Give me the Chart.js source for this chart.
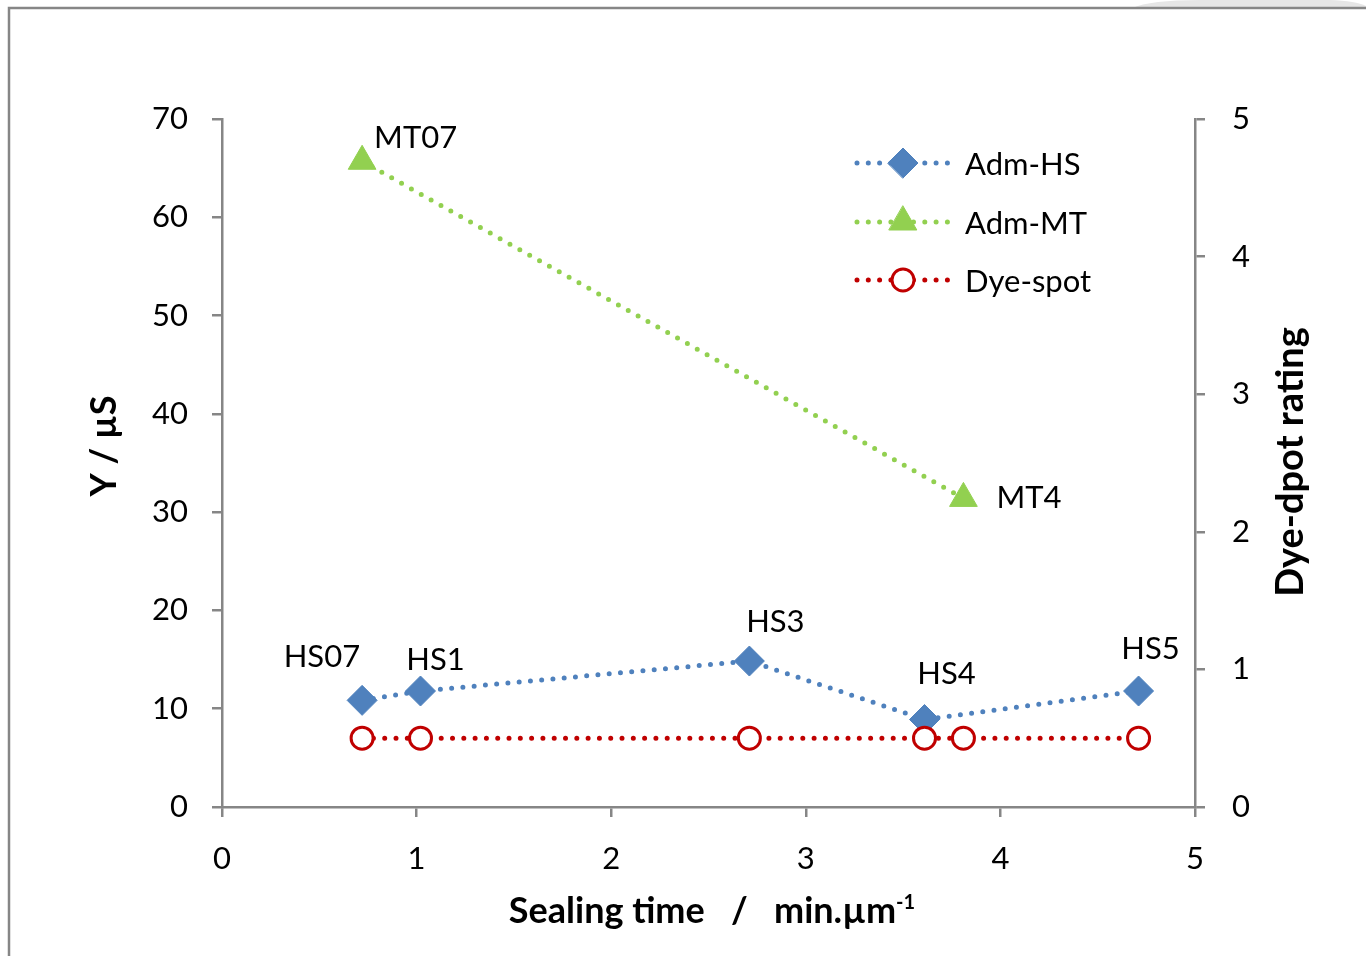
<!DOCTYPE html>
<html>
<head>
<meta charset="utf-8">
<title>Sealing time vs admittance</title>
<script src="https://cdn.jsdelivr.net/npm/chart.js@4.4.1/dist/chart.umd.min.js"></script>
<style>
  html, body { margin: 0; padding: 0; background: #fff; }
  #chart { display: block; }
</style>
</head>
<body>
<canvas id="chart" width="1366" height="956"></canvas>
<script>
// valores
const hsX = [0.72, 1.02, 2.71, 3.61, 4.71];
const hsY = [10.85, 11.8, 14.85, 8.9, 11.8];
const hsLabels = ['HS07', 'HS1', 'HS3', 'HS4', 'HS5'];

const mtX = [0.72, 3.81];
const mtY = [65.7, 31.4];
const mtLabels = ['MT07', 'MT4'];

const dyeX = [0.72, 1.02, 2.71, 3.61, 3.81, 4.71];
const dyeY = [0.5, 0.5, 0.5, 0.5, 0.5, 0.5];

const xTicks = [0, 1, 2, 3, 4, 5];
const yTicks = [0, 10, 20, 30, 40, 50, 60, 70];
const y2Ticks = [0, 1, 2, 3, 4, 5];

// deslocamento dos rótulos em relação aos pontos (dx, dy, alinhamento)
const hsLabelPos = [[-2, -43, 'right'], [15, -31, 'center'], [26, -39, 'center'], [22, -46, 'center'], [12, -42, 'center']];
const mtLabelPos = [[12, -23, 'left'], [33, 0, 'left']];

const AZUL = '#4F81BD';
const VERDE = '#92D050';
const VERMELHO = '#C00000';
const CINZA = '#868686';
const FONTE = 'Lato, "Open Sans", sans-serif';

function pares(xs, ys) {
  return xs.map((x, i) => ({ x: x, y: ys[i] }));
}

// desenha a moldura, títulos, legenda e rótulos dos pontos
const extras = {
  id: 'extras',
  afterDraw(chart) {
    const ctx = chart.ctx;
    ctx.save();

    // moldura
    ctx.fillStyle = '#e6e6e6';
    ctx.beginPath();
    ctx.moveTo(1132, 8);
    ctx.quadraticCurveTo(1150, 0, 1200, 0);
    ctx.lineTo(1330, 0);
    ctx.quadraticCurveTo(1356, 1, 1366, 6);
    ctx.lineTo(1366, 8);
    ctx.closePath();
    ctx.fill();
    ctx.strokeStyle = CINZA;
    ctx.lineWidth = 2.5;
    ctx.beginPath();
    ctx.moveTo(9, 956);
    ctx.lineTo(9, 8);
    ctx.lineTo(1366, 8);
    ctx.stroke();

    ctx.fillStyle = '#000';
    ctx.textBaseline = 'middle';

    // título do eixo x com expoente
    ctx.font = 'bold 36px ' + FONTE;
    ctx.textAlign = 'left';
    const parte1 = 'Sealing time   /   min.µm';
    const w1 = ctx.measureText(parte1).width;
    ctx.font = 'bold 20px ' + FONTE;
    const w2 = ctx.measureText('-1').width;
    const x0 = 712 - (w1 + w2) / 2;
    ctx.font = 'bold 36px ' + FONTE;
    ctx.fillText(parte1, x0, 911);
    ctx.font = 'bold 20px ' + FONTE;
    ctx.fillText('-1', x0 + w1, 903);

    // títulos verticais
    ctx.font = 'bold 36px ' + FONTE;
    ctx.textAlign = 'center';
    ctx.save();
    ctx.translate(104, 446);
    ctx.rotate(-Math.PI / 2);
    ctx.fillText('Y / µS', 0, 0);
    ctx.restore();
    ctx.font = 'bold 38px ' + FONTE;
    ctx.save();
    ctx.translate(1291, 462);
    ctx.rotate(-Math.PI / 2);
    ctx.fillText('Dye-dpot rating', 0, 0);
    ctx.restore();

    // rótulos dos pontos
    ctx.font = '31px ' + FONTE;
    const metaHS = chart.getDatasetMeta(0);
    metaHS.data.forEach((p, i) => {
      const pos = hsLabelPos[i];
      ctx.textAlign = pos[2];
      ctx.fillText(hsLabels[i], p.x + pos[0], p.y + pos[1]);
    });
    const metaMT = chart.getDatasetMeta(1);
    metaMT.data.forEach((p, i) => {
      const pos = mtLabelPos[i];
      ctx.textAlign = pos[2];
      ctx.fillText(mtLabels[i], p.x + pos[0], p.y + pos[1]);
    });

    // legenda
    const linhas = [163, 222, 280];
    chart.data.datasets.forEach((ds, i) => {
      const y = linhas[i];
      ctx.strokeStyle = ds.borderColor;
      ctx.lineWidth = ds.borderWidth;
      ctx.lineCap = 'round';
      ctx.setLineDash(ds.borderDash);
      ctx.beginPath();
      ctx.moveTo(857, y);
      ctx.lineTo(950, y);
      ctx.stroke();
      ctx.setLineDash([]);
      ctx.fillStyle = ds.pointBackgroundColor;
      ctx.strokeStyle = ds.pointBorderColor;
      ctx.lineWidth = ds.pointBorderWidth;
      Chart.helpers.drawPoint(ctx, {
        pointStyle: ds.pointStyle,
        radius: ds.pointRadius,
        borderWidth: ds.pointBorderWidth
      }, 903, y);
      ctx.fillStyle = '#000';
      ctx.font = '31px ' + FONTE;
      ctx.textAlign = 'left';
      ctx.fillText(ds.label, 965, y + 2);
    });

    ctx.restore();
  }
};

const estiloEixo = {
  grid: { drawOnChartArea: false, drawTicks: true, tickLength: 10, color: CINZA, lineWidth: 2.5 },
  border: { color: CINZA, width: 2.5 }
};

new Chart(document.getElementById('chart'), {
  type: 'scatter',
  data: {
    datasets: [
      {
        label: 'Adm-HS',
        data: pares(hsX, hsY),
        yAxisID: 'y',
        showLine: true,
        borderColor: AZUL,
        borderWidth: 5,
        borderDash: [0, 11.3],
        borderCapStyle: 'round',
        pointStyle: 'rectRot',
        pointRadius: 15,
        pointBackgroundColor: AZUL,
        pointBorderColor: AZUL,
        pointBorderWidth: 1,
        order: 1
      },
      {
        label: 'Adm-MT',
        data: pares(mtX, mtY),
        yAxisID: 'y',
        showLine: true,
        borderColor: VERDE,
        borderWidth: 5,
        borderDash: [0, 11.3],
        borderCapStyle: 'round',
        pointStyle: 'triangle',
        pointRadius: 16,
        pointBackgroundColor: VERDE,
        pointBorderColor: VERDE,
        pointBorderWidth: 1,
        order: 2
      },
      {
        label: 'Dye-spot',
        data: pares(dyeX, dyeY),
        yAxisID: 'y1',
        showLine: true,
        borderColor: VERMELHO,
        borderWidth: 5,
        borderDash: [0, 11.3],
        borderCapStyle: 'round',
        pointStyle: 'circle',
        pointRadius: 11,
        pointBackgroundColor: '#fff',
        pointBorderColor: VERMELHO,
        pointBorderWidth: 3,
        order: 0
      }
    ]
  },
  options: {
    responsive: false,
    animation: false,
    layout: { padding: { top: 119, left: 0, right: 0, bottom: 0 } },
    plugins: {
      legend: { display: false },
      tooltip: { enabled: false }
    },
    scales: {
      x: {
        type: 'linear',
        min: 0,
        max: 5,
        afterBuildTicks: s => { s.ticks = xTicks.map(v => ({ value: v })); },
        afterFit: s => { s.height = 149; },
        ticks: { color: '#000', font: { family: FONTE, size: 31 }, padding: 23 },
        ...estiloEixo
      },
      y: {
        position: 'left',
        min: 0,
        max: 70,
        afterBuildTicks: s => { s.ticks = yTicks.map(v => ({ value: v })); },
        afterFit: s => { s.width = 222; },
        ticks: { color: '#000', font: { family: FONTE, size: 31 }, padding: 24 },
        ...estiloEixo
      },
      y1: {
        position: 'right',
        min: 0,
        max: 5,
        afterBuildTicks: s => { s.ticks = y2Ticks.map(v => ({ value: v })); },
        afterFit: s => { s.width = 171; },
        ticks: { color: '#000', font: { family: FONTE, size: 31 }, padding: 27 },
        ...estiloEixo
      }
    }
  },
  plugins: [extras]
});
</script>
</body>
</html>
